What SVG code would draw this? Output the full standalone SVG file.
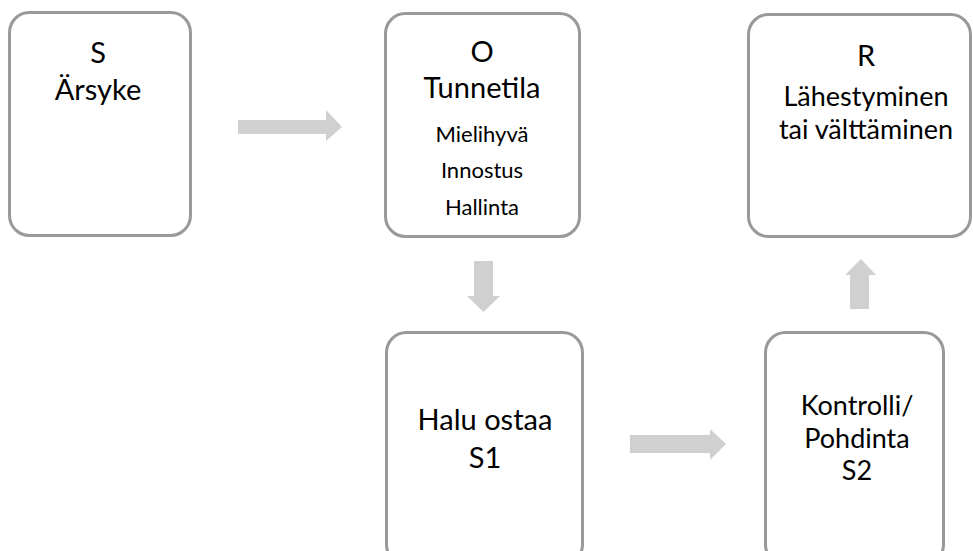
<svg xmlns="http://www.w3.org/2000/svg" width="973" height="551" viewBox="0 0 973 551">
<style>
.box{fill:#fff;stroke:#999;stroke-width:3}
.arr{fill:#d0d0d0;stroke:none}
text{font-family:Lato,"Open Sans","Liberation Sans",sans-serif;fill:#000;text-anchor:middle}
.big{font-size:29px}
.tight{font-size:27px}
.small{font-size:22px}
</style>
<rect width="973" height="551" fill="#fff"/>
<g id="connectors">
<polygon class="arr" points="238,120 326,120 326,110 342,127 326,141 326,134 238,134"/>
<polygon class="arr" points="474,261 493,261 493,296 500,296 483.5,312 467,296 474,296"/>
<polygon class="arr" points="630,435 710,435 710,429 726,444 710,460 710,453 630,453"/>
<polygon class="arr" points="850,309 869,309 869,275 876,275 861,259 845,275 850,275"/>
</g>
<g id="node-s">
<rect class="box" x="9.5" y="12.5" width="181" height="223" rx="20"/>
<text class="big" x="98" y="63">S<tspan x="98" dy="37">Ärsyke</tspan></text>
</g>
<g id="node-o">
<rect class="box" x="385.5" y="13.5" width="194" height="223" rx="20"/>
<text class="big" x="482" y="62">O<tspan x="482" dy="36">Tunnetila</tspan></text>
<text class="small" x="482" y="142">Mielihyvä<tspan x="482" dy="36">Innostus</tspan><tspan x="482" dy="37">Hallinta</tspan></text>
</g>
<g id="node-r">
<rect class="box" x="748.5" y="14.5" width="222" height="222" rx="20"/>
<text class="big" x="866" y="66">R</text>
<text class="tight" x="866" y="106">Lähestyminen<tspan x="866" dy="32.6">tai välttäminen</tspan></text>
</g>
<g id="node-s1">
<rect class="box" x="386.5" y="332.5" width="196" height="232" rx="20"/>
<text class="big" x="485" y="430">Halu ostaa<tspan x="485" dy="38">S1</tspan></text>
</g>
<g id="node-s2">
<rect class="box" x="765.5" y="332.5" width="178" height="232" rx="20"/>
<text class="tight" x="857" y="415">Kontrolli/<tspan x="857" dy="32.6">Pohdinta</tspan><tspan x="857" dy="32.6">S2</tspan></text>
</g>
</svg>
